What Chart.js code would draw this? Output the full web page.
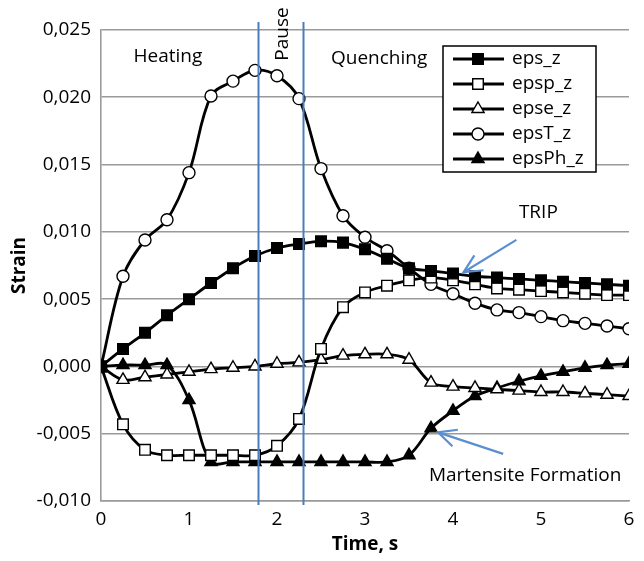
<!DOCTYPE html>
<html>
<head>
<meta charset="utf-8">
<script src="https://cdn.jsdelivr.net/npm/chart.js@4"></script>
<style>
  html, body { margin: 0; padding: 0; background: #fff; }
  #wrap { width: 644px; height: 561px; }
</style>
</head>
<body>
<div id="wrap"><canvas id="chart"></canvas></div>
<script>
// time steps (s)
const times = [0, 0.25, 0.5, 0.75, 1, 1.25, 1.5, 1.75, 2, 2.25, 2.5, 2.75, 3,
    3.25, 3.5, 3.75, 4, 4.25, 4.5, 4.75, 5, 5.25, 5.5, 5.75, 6];

// strain series
const epsZ = [0, 0.0013, 0.0025, 0.0038, 0.0050, 0.0062, 0.0073, 0.0082, 0.0088, 0.0091,
    0.0093, 0.0092, 0.0087, 0.0080, 0.0073, 0.0071, 0.0069, 0.0067, 0.0066, 0.0065,
    0.0064, 0.0063, 0.0062, 0.0061, 0.0060];
const epspZ = [0, -0.0043, -0.0062, -0.0066, -0.0066, -0.0066, -0.0066, -0.0066, -0.0059, -0.0039,
    0.0013, 0.0044, 0.0055, 0.0060, 0.0064, 0.0066, 0.0064, 0.0061, 0.0058, 0.0057,
    0.0056, 0.0055, 0.0054, 0.0053, 0.0053];
const epseZ = [0, -0.0010, -0.0008, -0.0006, -0.0004, -0.0002, -0.0001, 0.0000, 0.0002, 0.0003,
    0.0005, 0.0008, 0.0009, 0.0009, 0.0005, -0.0012, -0.0015, -0.0016, -0.0017, -0.0018,
    -0.0019, -0.0019, -0.0020, -0.0021, -0.0022];
const epsTZ = [0, 0.0067, 0.0094, 0.0109, 0.0144, 0.0201, 0.0212, 0.0220, 0.0216, 0.0199,
    0.0147, 0.0112, 0.0096, 0.0086, 0.0073, 0.0061, 0.0054, 0.0047, 0.0042, 0.0040,
    0.0037, 0.0034, 0.0032, 0.0030, 0.0028];
const epsPhZ = [0, 0.0001, 0.0001, 0.0001, -0.0025, -0.0071, -0.0071, -0.0071, -0.0071, -0.0071,
    -0.0071, -0.0071, -0.0071, -0.0071, -0.0066, -0.0046, -0.0033, -0.0022, -0.0016, -0.0011,
    -0.0007, -0.0004, -0.0001, 0.0001, 0.0002];

// axis ticks
const xTicks = [0, 1, 2, 3, 4, 5, 6];
const yTicks = [-0.010, -0.005, 0.000, 0.005, 0.010, 0.015, 0.020, 0.025];

// pause between heating and quenching (s)
const pauseStart = 1.78;
const pauseEnd = 2.3;

const FONT = "'Open Sans', Lato, sans-serif";

// build one dataset from a series
const makeSet = (label, values, style, filled) => ({
    label: label,
    data: times.map((t, i) => ({ x: t, y: values[i] })),
    borderColor: '#000',
    borderWidth: 2.8,
    backgroundColor: filled ? '#000' : '#fff',
    pointStyle: style,
    pointRadius: style === 'rect' ? 7.5 : (style === 'triangle' ? 7 : 6),
    pointBorderWidth: 1.4,
    pointBorderColor: '#000',
    pointBackgroundColor: filled ? '#000' : '#fff',
    tension: 0.35,
    fill: false
});

// draw one legend marker by hand
const drawMarker = (ctx, style, filled, x, y) => {
    ctx.beginPath();
    if (style === 'rect') {
        ctx.rect(x - 5.3, y - 5.3, 10.6, 10.6);
    } else if (style === 'circle') {
        ctx.arc(x, y, 6, 0, Math.PI * 2);
    } else {
        ctx.moveTo(x, y - 7);
        ctx.lineTo(x + 6.1, y + 3.5);
        ctx.lineTo(x - 6.1, y + 3.5);
        ctx.closePath();
    }
    ctx.fillStyle = filled ? '#000' : '#fff';
    ctx.fill();
    ctx.lineWidth = 1.4;
    ctx.strokeStyle = '#000';
    ctx.stroke();
};

// blue arrow between two data points
const drawArrow = (ctx, xs, ys, from, to) => {
    const x1 = xs.getPixelForValue(from[0]), y1 = ys.getPixelForValue(from[1]);
    const x2 = xs.getPixelForValue(to[0]), y2 = ys.getPixelForValue(to[1]);
    const ang = Math.atan2(y2 - y1, x2 - x1);
    ctx.strokeStyle = '#5b8fd0';
    ctx.lineWidth = 2.2;
    ctx.beginPath();
    ctx.moveTo(x1, y1);
    ctx.lineTo(x2, y2);
    ctx.moveTo(x2 - 20 * Math.cos(ang - 0.45), y2 - 20 * Math.sin(ang - 0.45));
    ctx.lineTo(x2, y2);
    ctx.lineTo(x2 - 20 * Math.cos(ang + 0.45), y2 - 20 * Math.sin(ang + 0.45));
    ctx.stroke();
};

// notes, pause lines, arrows and legend
const notesPlugin = {
    id: 'notes',
    afterDatasetsDraw(chart) {
        const ctx = chart.ctx;
        const xs = chart.scales.x, ys = chart.scales.y;
        const area = chart.chartArea;
        ctx.save();

        // pause lines
        ctx.strokeStyle = '#4a7ebb';
        ctx.lineWidth = 2;
        [pauseStart, pauseEnd].forEach(t => {
            const px = Math.round(xs.getPixelForValue(t)) + 0.5;
            ctx.beginPath();
            ctx.moveTo(px, area.top - 8);
            ctx.lineTo(px, area.bottom + 4);
            ctx.stroke();
        });

        // arrows
        drawArrow(ctx, xs, ys, [4.72, 0.0094], [4.12, 0.0070]);
        drawArrow(ctx, xs, ys, [4.57, -0.0065], [3.83, -0.0049]);

        // text notes
        ctx.fillStyle = '#000';
        ctx.font = '19px ' + FONT;
        ctx.textAlign = 'center';
        ctx.textBaseline = 'middle';
        ctx.fillText('Heating', xs.getPixelForValue(0.76), ys.getPixelForValue(0.0230));
        ctx.fillText('Quenching', xs.getPixelForValue(3.16), ys.getPixelForValue(0.0229));
        ctx.fillText('TRIP', xs.getPixelForValue(4.97), ys.getPixelForValue(0.0114));
        ctx.fillText('Martensite Formation', xs.getPixelForValue(4.82), ys.getPixelForValue(-0.0081));
        ctx.save();
        ctx.translate(xs.getPixelForValue(2.06), ys.getPixelForValue(0.0247));
        ctx.rotate(-Math.PI / 2);
        ctx.fillText('Pause', 0, 0);
        ctx.restore();

        // legend box
        const lx = area.right - 186, ly = area.top + 16;
        ctx.fillStyle = '#fff';
        ctx.fillRect(lx, ly, 153, 126);
        ctx.strokeStyle = '#000';
        ctx.lineWidth = 1.5;
        ctx.strokeRect(lx, ly, 153, 126);
        ctx.textAlign = 'left';
        chart.data.datasets.forEach((ds, i) => {
            const rowY = ly + 13 + i * 25;
            ctx.strokeStyle = '#000';
            ctx.lineWidth = 2.8;
            ctx.beginPath();
            ctx.moveTo(lx + 10, rowY);
            ctx.lineTo(lx + 61, rowY);
            ctx.stroke();
            drawMarker(ctx, ds.pointStyle, ds.pointBackgroundColor === '#000', lx + 35, rowY);
            ctx.fillStyle = '#000';
            ctx.fillText(ds.label, lx + 69, rowY);
        });

        ctx.restore();
    }
};

const myChart = document.getElementById('chart');

let chart = new Chart(myChart, {
    type: 'line',
    data: {
        datasets: [
            makeSet('eps_z', epsZ, 'rect', true),
            makeSet('epsp_z', epspZ, 'rect', false),
            makeSet('epse_z', epseZ, 'triangle', false),
            makeSet('epsT_z', epsTZ, 'circle', false),
            makeSet('epsPh_z', epsPhZ, 'triangle', true)
        ]
    },
    options: {
        responsive: true,
        maintainAspectRatio: false,
        animation: false,
        layout: { padding: { top: 30, right: 15, left: 0, bottom: 0 } },
        plugins: {
            legend: { display: false },
            tooltip: { enabled: false }
        },
        scales: {
            x: {
                type: 'linear',
                min: 0,
                max: 6,
                afterFit: (scale) => { scale.height = 60; },
                afterBuildTicks: (scale) => { scale.ticks = xTicks.map(v => ({ value: v })); },
                grid: { display: false, drawTicks: false },
                border: { display: true, color: '#9a9a9a', width: 1.6 },
                ticks: {
                    padding: 7,
                    color: '#000',
                    font: { family: FONT, size: 19 }
                },
                title: {
                    display: true,
                    text: 'Time, s',
                    color: '#000',
                    font: { family: FONT, size: 19, weight: 'bold' },
                    padding: { top: 0, bottom: 5 }
                }
            },
            y: {
                min: -0.010,
                max: 0.025,
                afterFit: (scale) => { scale.width = 101; },
                afterBuildTicks: (scale) => { scale.ticks = yTicks.map(v => ({ value: v })); },
                grid: { color: '#9a9a9a', lineWidth: 1.6, drawTicks: false },
                border: { display: true, color: '#9a9a9a', width: 1.6 },
                ticks: {
                    padding: 10,
                    color: '#000',
                    font: { family: FONT, size: 19 },
                    callback: (v) => (Math.abs(v) < 1e-9 ? 0 : v).toFixed(3).replace('.', ',')
                },
                title: {
                    display: true,
                    text: 'Strain',
                    color: '#000',
                    font: { family: FONT, size: 19, weight: 'bold' },
                    padding: { top: 8, bottom: 0 }
                }
            }
        }
    },
    plugins: [notesPlugin]
});
</script>
</body>
</html>
